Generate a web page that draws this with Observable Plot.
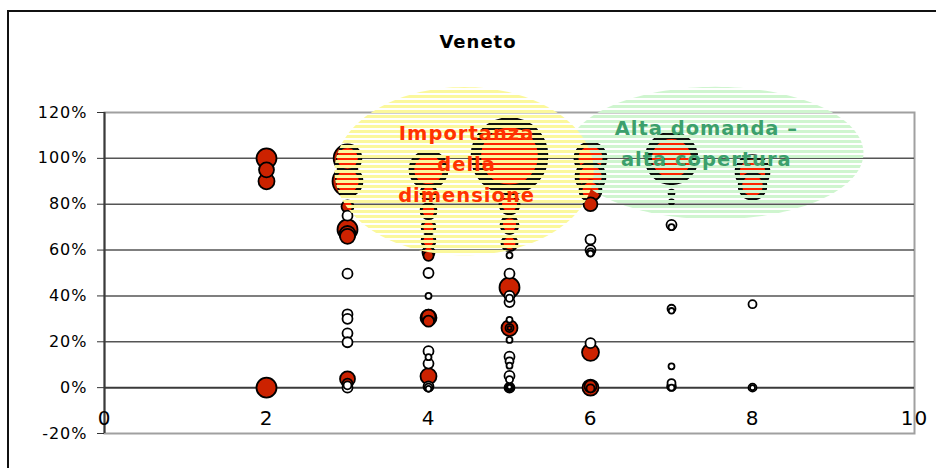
<!DOCTYPE html>
<html>
<head>
<meta charset="utf-8">
<script src="https://cdn.jsdelivr.net/npm/d3@7"></script>
<script src="https://cdn.jsdelivr.net/npm/@observablehq/plot@0.6"></script>
<style>
  html, body { margin: 0; padding: 0; background: #fff; }
  #chart { position: relative; width: 936px; height: 468px; overflow: hidden; font-family: "DejaVu Sans", sans-serif; }
  #border { position: absolute; left: 7px; top: 10px; width: 1000px; height: 1000px; border: 2px solid #111; pointer-events: none; z-index: 2; }
  #title { position: absolute; left: 0; top: 32px; width: 956px; text-align: center; font: bold 18px/20px "DejaVu Sans", sans-serif; letter-spacing: 1px; z-index: 1; }
  #chart svg { position: absolute; left: 0; top: 0; }
  #chart svg text { letter-spacing: 1px; }
</style>
</head>
<body>
<div id="chart">
  <div id="border"></div>
  <div id="title">Veneto</div>
</div>
<script>
// Filled (red) bubbles: number of dimensions, coverage %, bubble size
const filledX    = [2, 2, 2, 2,
                    3, 3, 3, 3, 3, 3, 3, 3,
                    4, 4, 4, 4, 4, 4, 4, 4, 4, 4, 4,
                    5, 5, 5, 5, 5, 5, 5, 5,
                    6, 6, 6, 6, 6, 6, 6, 6,
                    7,
                    8, 8];
const filledY    = [100, 95, 90, 0,
                    100, 90, 79, 69, 67, 66, 3.8, 1.7,
                    95, 85, 77, 70, 64, 59, 57.5, 31, 30.5, 29, 5,
                    101, 80, 71, 63, 43.7, 26, 26, 26,
                    100, 92, 86, 80, 15.4, 0, 0.6, -0.3,
                    100,
                    94, 88];
const filledSize = [6.25, 3.5, 4, 6.25,
                    12, 14, 2.25, 6.25, 4, 3.5, 3.5, 1.6,
                    22.5, 4, 4, 3, 3, 2.25, 1.6, 3, 4, 1.9, 4,
                    90, 6.25, 5, 4, 6.25, 4, 1, 0.25,
                    16, 14, 7.5, 3, 4.5, 4, 2.25, 1,
                    42,
                    18, 12];

// Hollow (white) bubbles
const hollowX    = [3, 3, 3, 3, 3, 3, 3, 3,
                    4, 4, 4, 4, 4, 4, 4, 4,
                    5, 5, 5, 5, 5, 5, 5, 5, 5, 5, 5, 5, 5, 5, 5, 5,
                    6, 6, 6, 6, 6,
                    7, 7, 7, 7, 7, 7, 7, 7, 7, 7,
                    8, 8, 8];
const hollowY    = [75, 49.7, 32, 30, 23.7, 19.8, 1, 0,
                    50, 40, 15.9, 13.3, 10.5, 0.5, 0, -0.5,
                    57.7, 49.7, 40, 39, 37.3, 29.6, 20.8, 13.5, 11.5, 9.6, 5.1, 3.5, 0, 0, 0, 0.3,
                    64.6, 60, 59, 58.5, 19.4,
                    85, 81, 71, 70, 34.4, 33.5, 9.3, 2, 0.5, 0,
                    36.4, 0, 0];
const hollowSize = [1.56, 1.56, 1.56, 1.56, 1.56, 1.56, 1, 1.56,
                    1.56, 0.56, 1.56, 0.56, 1.56, 1.56, 1, 0.5,
                    0.56, 1.56, 1.56, 0.8, 1.56, 0.56, 0.56, 1.56, 1, 0.56, 1.56, 0.8, 1.56, 1, 0.56, 0.3,
                    1.56, 1.56, 1, 0.56, 1.56,
                    0.56, 0.4, 1.56, 0.56, 1, 0.5, 0.56, 1, 1.2, 0.56,
                    1, 1, 0.4];

// Highlighted zones (ellipses in data units)
const zoneNames = ["green", "yellow"];
const zoneCX    = [7.54, 4.44];
const zoneCY    = [102.3, 94.4];
const zoneRX    = [1.83, 1.6];
const zoneRY    = [28.9, 36.7];
const zoneColor = ["#cff5cf", "#fbf89c"];

// Zone captions
const redNote    = ["Importanza", "della", "dimensione"];
const redNoteX   = 4.47;
const redNoteY   = [110.6, 97.0, 83.5];
const greenNote  = ["Alta domanda \u2013", "alta copertura"];
const greenNoteX = 7.43;
const greenNoteY = [112.8, 99.2];

// Axes
const xTicks = [0, 2, 4, 6, 8, 10];
const yTicks = [-20, 0, 20, 40, 60, 80, 100, 120];
const yGrid  = [20, 40, 60, 80, 100];
const xAxisAt = 0;

const RED = "#cc2200";
const RED_BRIGHT = "#ff2200";
const R_MAX = 40; // pixel radius of a size-100 bubble

// Stripe geometry of the zone fills (pixels)
const STRIPE_PERIOD = 5;
const STRIPE_GAP = 2;

const bubbles = [
  ...filledX.map((x, i) => ({x, y: filledY[i], size: filledSize[i], filled: true})),
  ...hollowX.map((x, i) => ({x, y: hollowY[i], size: hollowSize[i], filled: false}))
].sort((a, b) => b.size - a.size);

// Outline of each zone as a closed polygon
function zoneOutline(i) {
  return d3.range(0, 144).map(k => {
    const t = 2 * Math.PI * k / 144;
    return {x: zoneCX[i] + zoneRX[i] * Math.cos(t), y: zoneCY[i] + zoneRY[i] * Math.sin(t)};
  });
}

// Radius in pixels of a bubble (same rule as the r scale below)
const radiusPx = s => R_MAX * Math.sqrt(s / 100);

const svg = Plot.plot({
  width: 936,
  height: 468,
  marginLeft: 104,
  marginRight: 22,
  marginTop: 112,
  marginBottom: 35,
  style: {fontFamily: "DejaVu Sans, sans-serif", fontSize: "16px", background: "transparent", overflow: "visible", color: "#000"},
  x: {domain: [0, 10], axis: null},
  y: {domain: [-20, 120], axis: null},
  r: {type: "sqrt", domain: [0, 100], range: [0, R_MAX]},
  color: {type: "identity"},
  marks: [
    Plot.frame({stroke: "#a0a0a0", strokeWidth: 2}),
    Plot.gridY(yGrid, {stroke: "#555", strokeOpacity: 1, strokeWidth: 1.5}),
    Plot.ruleY([xAxisAt], {stroke: "#3a3a3a", strokeWidth: 2}),
    Plot.ruleX([0], {stroke: "#3a3a3a", strokeWidth: 2}),
    Plot.axisY(yTicks, {anchor: "left", tickSize: 7, tickPadding: 10, tickFormat: d => d + "%", fontSize: 16, label: null, stroke: "#333"}),
    Plot.text(xTicks, {x: d => d, y: () => xAxisAt, text: d => String(d), dy: 31, fontSize: 20, lineAnchor: "middle"}),
    // bubbles
    Plot.dot(bubbles, {x: "x", y: "y", r: "size", fill: d => d.filled ? RED : "white", stroke: "black", strokeWidth: 1.8, sort: null}),
    // bubbles seen through the striped zones: thin dark rim, red core for filled ones
    Plot.dot(bubbles, {
      x: "x", y: "y",
      r: d => d.filled ? d.size * 0.7656 : d.size,
      fill: d => d.filled ? RED_BRIGHT : "#111",
      stroke: "#111",
      strokeWidth: d => d.filled ? radiusPx(d.size) * 0.25 : 0,
      sort: null
    }),
    // zones
    Plot.line(zoneOutline(0), {x: "x", y: "y", curve: "linear-closed", fill: "url(#hatch-green)", stroke: "none"}),
    Plot.line(zoneOutline(1), {x: "x", y: "y", curve: "linear-closed", fill: "url(#hatch-yellow)", stroke: "none"}),
    // captions
    Plot.text(redNote, {x: () => redNoteX, y: (d, i) => redNoteY[i], text: d => d, fill: "#ff3300", fontWeight: "bold", fontSize: 19.5}),
    Plot.text(greenNote, {x: () => greenNoteX, y: (d, i) => greenNoteY[i], text: d => d, fill: "#3ca06c", fontWeight: "bold", fontSize: 19.5})
  ]
});

// Striped fills and the clip that lets bubbles show through the stripes
const ns = "http://www.w3.org/2000/svg";
const defs = document.createElementNS(ns, "defs");
svg.insertBefore(defs, svg.firstChild);

const zoneGroups = [...svg.querySelectorAll('g[aria-label="line"]')];
const dotGroups = [...svg.querySelectorAll('g[aria-label="dot"]')];
const hatchGroups = dotGroups.slice(1);

const tm = zoneGroups.length ? /translate\(\s*([-\d.]+)[ ,]+([-\d.]+)\s*\)/.exec(zoneGroups[0].getAttribute("transform") || "") : null;
const ty = tm ? +tm[2] : 0;

zoneNames.forEach((name, i) => {
  const pat = document.createElementNS(ns, "pattern");
  pat.setAttribute("id", "hatch-" + name);
  pat.setAttribute("patternUnits", "userSpaceOnUse");
  pat.setAttribute("width", 8);
  pat.setAttribute("height", STRIPE_PERIOD);
  pat.setAttribute("patternTransform", `translate(0,${-ty})`);
  const r = document.createElementNS(ns, "rect");
  r.setAttribute("x", 0);
  r.setAttribute("y", 0);
  r.setAttribute("width", 8);
  r.setAttribute("height", STRIPE_PERIOD - STRIPE_GAP);
  r.setAttribute("fill", zoneColor[i]);
  pat.appendChild(r);
  defs.appendChild(pat);
});

const clip = document.createElementNS(ns, "clipPath");
clip.setAttribute("id", "zone-clip");
zoneGroups.forEach(g => {
  const paths = g.tagName.toLowerCase() === "path" ? [g] : [...g.querySelectorAll("path")];
  paths.forEach(p => {
    const c = document.createElementNS(ns, "path");
    c.setAttribute("d", p.getAttribute("d"));
    clip.appendChild(c);
  });
});
defs.appendChild(clip);
hatchGroups.forEach(g => g.setAttribute("clip-path", "url(#zone-clip)"));

document.getElementById("chart").appendChild(svg);
</script>
</body>
</html>
